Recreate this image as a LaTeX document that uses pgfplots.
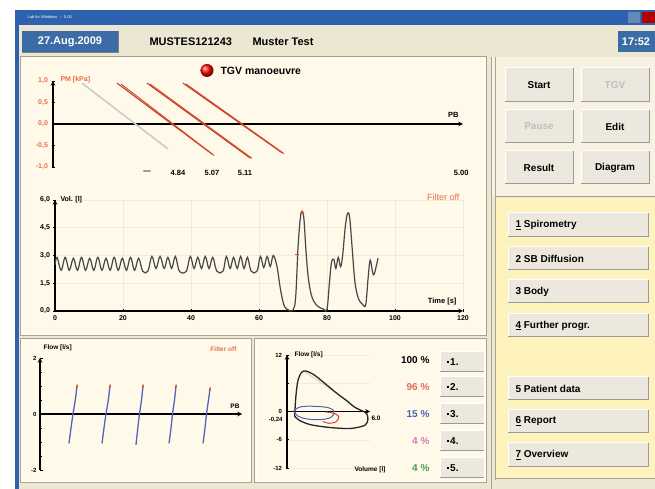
\documentclass[border=0pt]{standalone}
\usepackage{fontspec}
\setmainfont{Liberation Sans}
\usepackage{pgfplots}
\pgfplotsset{compat=1.18}
\definecolor{winbg}{HTML}{ECE7D3}
\definecolor{panel}{HTML}{FFF9EA}
\definecolor{rpanel}{HTML}{F7F2E2}
\definecolor{yel}{HTML}{FFF3BD}
\definecolor{titleblue}{HTML}{2F62AE}
\definecolor{boxblue}{HTML}{3B6CA6}
\definecolor{btn}{HTML}{ECE8DD}
\definecolor{redc}{HTML}{D9482B}
\definecolor{redd}{HTML}{B83A26}
\definecolor{oran}{HTML}{E8704A}
\definecolor{flowblue}{HTML}{5A5FC0}
\definecolor{gridc}{HTML}{F0EBD6}
\definecolor{bord}{HTML}{A8A28E}
\definecolor{pinkc}{HTML}{D27AB8}
\definecolor{greenc}{HTML}{4E9A50}
\definecolor{bluec}{HTML}{4A62B0}

\newcommand{\button}[6]{%
  \fill[btn] (#1,#2) rectangle (#3,#4);
  \draw[white,line width=1pt] (#1,#4)--(#1,#2)--(#3,#2);
  \draw[black!40,line width=1pt] (#1,#4)--(#3,#4)--(#3,#2);
  \node[font=\fontsize{10}{12}\selectfont\bfseries,text=#5] at ({(#1+#3)/2},{(#2+#4)/2}) {#6};}
\newcommand{\navbutton}[5]{%
  \fill[btn] (#1,#2) rectangle (#3,#4);
  \draw[white,line width=1pt] (#1,#4)--(#1,#2)--(#3,#2);
  \draw[black!40,line width=1pt] (#1,#4)--(#3,#4)--(#3,#2);
  \node[font=\fontsize{10}{12}\selectfont\bfseries,anchor=west] at ({#1+4},{(#2+#4)/2}) {#5};}

\pgfplotsset{ui/.style={scale only axis, anchor=south west,
  axis line style={-,black,line width=1.1pt},
  tick style={black,line width=0.6pt}, tick align=outside,
  major tick length=3pt, minor tick length=2pt,
  ticklabel style={font=\fontsize{7}{8}\selectfont\bfseries},
  /pgf/number format/assume math mode=true,
  hide obscured x ticks=false, hide obscured y ticks=false,
  clip=false}}

\begin{document}
\begin{tikzpicture}[x=1pt,y=1pt]
\useasboundingbox (0,0) rectangle (655,489);
% ---------------- background ----------------
\begin{scope}[shift={(0,489)},y=-1pt]
  \fill[white] (0,0) rectangle (655,489);
  \fill[winbg] (15,10) rectangle (655,489);
  \fill[titleblue] (15,10) rectangle (655,25);
  \fill[titleblue] (15,10) rectangle (19,489);
  \node[font=\fontsize{4}{5}\selectfont,text=white,anchor=west] at (24,17.5) {Lab for Windows \ --\ \ 5.00};
  \fill[boxblue!80] (628,12) rectangle (640,23);
  \fill[red!70!black] (642,12) rectangle (655,23);
  % date and time boxes
  \fill[boxblue] (22,31) rectangle (118,52);
  \draw[black!50] (22,52)--(118,52)--(118,31);
  \node[font=\fontsize{11}{13}\selectfont\bfseries,text=white] at (70,41.5) {27.Aug.2009};
  \fill[boxblue] (618,31) rectangle (655,52);
  \node[font=\fontsize{11}{13}\selectfont\bfseries,text=white] at (636,41.5) {17:52};
  \node[font=\fontsize{11}{13}\selectfont\bfseries,anchor=west] at (146,41.5) {MUSTES121243};
  \node[font=\fontsize{11}{13}\selectfont\bfseries,anchor=west] at (249,41.5) {Muster Test};
  % main panel
  \fill[panel] (20,57) rectangle (486,336);
  \draw[bord,line width=1pt] (20,57) rectangle (486,336);
  \draw[white,line width=0.8pt] (22,59) rectangle (484,334);
  % bottom panels
  \fill[panel] (20,339) rectangle (251,483);
  \draw[bord,line width=1pt] (20,339) rectangle (251,483);
  \draw[white,line width=0.8pt] (22,341) rectangle (249,481);
  \fill[panel] (254,339) rectangle (486,483);
  \draw[bord,line width=1pt] (254,339) rectangle (486,483);
  \draw[white,line width=0.8pt] (256,341) rectangle (484,481);
  % right panel
  \fill[rpanel] (491,57) rectangle (655,197);
  \draw[bord,line width=1pt] (491,57)--(491,489);
  \draw[bord,line width=1pt] (495,57)--(495,480);
  \fill[yel] (496,198) rectangle (655,479);
  \draw[bord,line width=1pt] (495,197)--(655,197);
  \draw[bord,line width=1pt] (495,479)--(655,479);
  % right buttons
  \button{505}{68}{573}{102}{black}{Start}
  \button{581}{68}{649}{102}{black!25}{TGV}
  \button{505}{110}{573}{143}{black!25}{Pause}
  \button{581}{110}{649}{143}{black}{Edit}
  \button{505}{151}{573}{184}{black}{Result}
  \button{581}{151}{649}{184}{black}{Diagram}
  \navbutton{508}{213}{648}{237}{\underline{1} Spirometry}
  \navbutton{508}{247}{648}{270}{2 SB Diffusion}
  \navbutton{508}{280}{648}{303}{3 Body}
  \navbutton{508}{314}{648}{337}{\underline{4} Further progr.}
  \navbutton{508}{377}{648}{400}{5 Patient data}
  \navbutton{508}{410}{648}{433}{\underline{6} Report}
  \navbutton{508}{443}{648}{467}{\underline{7} Overview}
  % small buttons bottom
  \foreach \ya/\yb/\t in {352/372/1.,377/397/2.,404/424/3.,431/451/4.,458/478/5.}{
    \fill[btn] (440,\ya) rectangle (484,\yb);
    \draw[white,line width=1pt] (440,\yb)--(440,\ya)--(484,\ya);
    \draw[black!40,line width=1pt] (440,\yb)--(484,\yb);
    \node[font=\fontsize{10}{12}\selectfont\bfseries,anchor=west] at (443,{(\ya+\yb)/2}) {\rule[2.5pt]{2pt}{2pt}\,\t};
  }
\end{scope}

% ---------------- PB chart ----------------
\begin{axis}[ui, at={(53pt,322pt)}, width=410pt, height=86pt,
  xmin=0, xmax=410, ymin=-1, ymax=1,
  axis x line=middle, axis y line=left, xtick=\empty,
  ytick={-1,-0.5,0,0.5,1},
  yticklabels={{-1,0},{-0,5},{0,0},{0,5},{1,0}},
  yticklabel style={text=oran}]
  \addplot[black!20, line width=1.6pt] coordinates {(29,0.95) (115,-0.58)};
  \addplot[redd, line width=1pt] coordinates {(64,0.95) (159,-0.70)};
  \addplot[redc, line width=1pt] coordinates {(68,0.93) (161,-0.73)};
  \addplot[redd, line width=1pt] coordinates {(94,0.95) (197,-0.79)};
  \addplot[redc, line width=1pt] coordinates {(97,0.93) (199,-0.80)};
  \addplot[redd, line width=1pt] coordinates {(130,0.95) (229,-0.67)};
  \addplot[redc, line width=1pt] coordinates {(133,0.93) (231,-0.69)};
\end{axis}

% ---------------- Volume chart ----------------
\begin{axis}[ui, at={(55pt,178pt)}, width=408pt, height=111pt,
  xmin=0, xmax=120, ymin=0, ymax=6,
  axis x line=bottom, axis y line=left,
  xtick={0,20,...,120}, ytick={0,1.5,3,4.5,6},
  yticklabels={{0,0},{1,5},{3,0},{4,5},{6,0}},
  grid=major, major grid style={gridc, line width=0.6pt}]
  \addplot[black!72, line width=1.2pt, smooth, tension=0.6] coordinates {
  (0,2.5) (0.6,2.9) (1.8,2.2) (3.0,2.9) (4.2,2.2) (5.4,2.85) (6.6,2.2) (7.8,2.9)
  (9.0,2.2) (10.2,2.85) (11.4,2.2) (12.6,2.9) (13.8,2.2) (15.0,2.85) (16.2,2.2)
  (17.4,2.9) (18.6,2.2) (19.8,2.85) (21.0,2.2) (22.2,2.9) (23.4,2.2) (24.6,2.85)
  (25.8,2.15) (27.3,2.15)
  (28.5,2.95) (29.7,2.3) (30.9,2.95) (32.1,2.3) (33.2,2.9) (34.3,2.3) (35.4,2.95)
  (36.6,2.15) (38.6,2.15)
  (39.8,2.95) (40.9,2.3) (42.0,2.9) (43.1,2.3) (44.2,2.95) (45.3,2.3) (46.4,2.9)
  (47.6,2.15) (49.4,2.15)
  (50.4,2.95) (51.5,2.3) (52.5,2.9) (53.6,2.3) (54.6,2.95) (55.6,2.3) (56.6,2.9)
  (57.7,2.15) (59.4,2.15)
  (60.4,2.95) (61.4,2.35) (62.4,2.95) (63.3,2.4) (64.2,3.0)
  (65.3,2.4) (66.2,1.3) (67.2,0.4) (68.2,0.1) (70.0,0.05) (70.8,0.8) (71.5,3.5)
  (72.2,5.1) (72.7,5.35) (73.2,5.0) (73.8,3.3) (74.5,1.8) (75.5,0.8) (77,0.3)
  (79,0.1) (80,0.1) (80.7,1.5) (81.3,2.6) (82,2.8) (82.6,2.3) (83.3,2.9) (84,2.4)
  (84.6,3.0) (85.4,4.6) (86.1,5.3) (86.7,5.0) (87.4,3.4) (88.2,1.6) (89.2,0.7)
  (90.5,0.35) (91.4,0.35) (92.1,1.8) (92.7,2.75) (93.4,2.1) (93.9,2.0) (95,2.85)};
  \addplot[redc, line width=1.2pt] coordinates {(72.3,5.25) (72.7,5.4) (73.1,5.25)};
  \addplot[redc, line width=0.8pt] coordinates {(70.6,3.05) (71.8,3.05)};
\end{axis}

% ---------------- Flow / PB chart ----------------
\begin{axis}[ui, at={(40pt,19pt)}, width=202pt, height=112pt,
  xmin=0, xmax=202, ymin=-2, ymax=2,
  axis x line=middle, axis y line=left, xtick=\empty,
  ytick={-2,0,2}, minor y tick num=3, tick align=inside,
  ticklabel style={font=\fontsize{6}{7}\selectfont\bfseries}]
  \addplot[flowblue, line width=1.3pt, smooth] coordinates {(29,-1.05) (31,-0.5) (33,0) (35.3,0.5) (37,1.0)};
  \addplot[flowblue, line width=1.3pt, smooth] coordinates {(62,-1.05) (64,-0.5) (66,0) (68.3,0.5) (70,1.0)};
  \addplot[flowblue, line width=1.3pt, smooth] coordinates {(96,-1.1) (97.8,-0.5) (99.5,0) (101.5,0.5) (103,1.0)};
  \addplot[flowblue, line width=1.3pt, smooth] coordinates {(129,-1.05) (131,-0.5) (132.5,0) (134.5,0.5) (136,1.0)};
  \addplot[flowblue, line width=1.3pt, smooth] coordinates {(163,-1.05) (165,-0.5) (166.5,0) (168.5,0.5) (170,0.9)};
  \addplot[redc, line width=1.3pt] coordinates {(36.5,0.93) (37.3,1.05)};
  \addplot[redc, line width=1.3pt] coordinates {(69.5,0.93) (70.3,1.05)};
  \addplot[redc, line width=1.3pt] coordinates {(102.5,0.93) (103.3,1.05)};
  \addplot[redc, line width=1.3pt] coordinates {(135.5,0.93) (136.3,1.05)};
  \addplot[redc, line width=1.3pt] coordinates {(169.5,0.83) (170.3,0.95)};
\end{axis}

% ---------------- Flow / Volume chart ----------------
\begin{axis}[ui, at={(287pt,21pt)}, width=83pt, height=113pt,
  xmin=0, xmax=6, ymin=-12, ymax=12,
  axis x line=middle, axis y line=left, xtick=\empty,
  ytick={-12,-6,0,6,12}, yticklabels={-12,-6,0,,12},
  ticklabel style={font=\fontsize{6}{7}\selectfont\bfseries},
  grid=major, major grid style={gridc}]
  \addplot[black!20, line width=0.8pt] coordinates {(1.3,8.4) (4.55,2.0)};
  \addplot[black!85, line width=1.3pt, smooth, tension=0.5] coordinates {
   (0.55,-1.0) (0.65,3.5) (0.8,6.7) (1.05,8.3) (1.35,8.6) (1.9,7.9) (2.6,6.3)
   (3.5,4.1) (4.35,2.2) (4.9,0.9) (5.45,0.1) (5.75,-0.4) (5.85,-1.6) (5.65,-2.9)
   (4.6,-3.6) (3.1,-3.4) (1.7,-2.8) (0.9,-1.9) (0.55,-1.0)};
  \addplot[bluec, line width=1pt, smooth, tension=0.6] coordinates {
   (0.5,0.2) (1.0,1.0) (2.0,1.1) (3.0,0.8) (3.4,0) (3.2,-1.2) (2.5,-1.7)
   (1.5,-1.6) (0.8,-1.0) (0.5,0.2)};
  \addplot[redc, line width=1pt, smooth] coordinates {
   (2.8,-0.1) (3.4,-0.4) (3.75,-1.1) (3.55,-2.2) (3.0,-2.5) (2.6,-2.1)};
\end{axis}

% ---------------- foreground texts ----------------
\begin{scope}[shift={(0,489)},y=-1pt]
  \shade[ball color=red!90!orange] (207,70.5) circle (6.5);
  \node[font=\fontsize{10.5}{12}\selectfont\bfseries,anchor=west] at (217,70.5) {TGV manoeuvre};
  \node[font=\fontsize{7}{8}\selectfont\bfseries,text=oran,anchor=west] at (57,80) {PM [kPa]};
  \node[font=\fontsize{7.5}{9}\selectfont\bfseries,anchor=east] at (462,115) {PB};
  \node[font=\fontsize{7.5}{9}\selectfont\bfseries] at (147,172.5) {---};
  \node[font=\fontsize{7.5}{9}\selectfont\bfseries] at (178,172.5) {4.84};
  \node[font=\fontsize{7.5}{9}\selectfont\bfseries] at (212,172.5) {5.07};
  \node[font=\fontsize{7.5}{9}\selectfont\bfseries] at (245,172.5) {5.11};
  \node[font=\fontsize{7.5}{9}\selectfont\bfseries,anchor=east] at (472,172.5) {5.00};
  \node[font=\fontsize{7}{8}\selectfont\bfseries,anchor=west] at (57,200) {Vol. [l]};
  \node[font=\fontsize{9}{10}\selectfont,text=oran,anchor=east] at (463,197) {Filter off};
  \node[font=\fontsize{7.5}{9}\selectfont\bfseries,anchor=east] at (460,302) {Time [s]};
  % bottom left
  \node[font=\fontsize{6.5}{8}\selectfont\bfseries,anchor=west] at (40,348) {Flow [l/s]};
  \node[font=\fontsize{6.5}{8}\selectfont\bfseries,text=oran,anchor=east] at (240,349) {Filter off};
  \node[font=\fontsize{6.5}{8}\selectfont\bfseries,anchor=east] at (243,406) {PB};
  % bottom middle
  \node[font=\fontsize{6.5}{8}\selectfont\bfseries,anchor=west] at (291,355) {Flow [l/s]};
  \node[font=\fontsize{6}{7}\selectfont\bfseries,anchor=east] at (286,420) {-0,24};
  \node[font=\fontsize{6.5}{8}\selectfont\bfseries,anchor=west] at (368,418) {6.0};
  \node[font=\fontsize{6.5}{8}\selectfont\bfseries,anchor=east] at (389,470) {Volume [l]};
  \node[font=\fontsize{10}{12}\selectfont\bfseries,anchor=east] at (433,360) {100 \%};
  \node[font=\fontsize{10}{12}\selectfont\bfseries,anchor=east,text=redc!80] at (433,387) {96 \%};
  \node[font=\fontsize{10}{12}\selectfont\bfseries,anchor=east,text=bluec] at (433,414) {15 \%};
  \node[font=\fontsize{10}{12}\selectfont\bfseries,anchor=east,text=pinkc] at (433,441) {4 \%};
  \node[font=\fontsize{10}{12}\selectfont\bfseries,anchor=east,text=greenc] at (433,468) {4 \%};
\end{scope}
\end{tikzpicture}
\end{document}
